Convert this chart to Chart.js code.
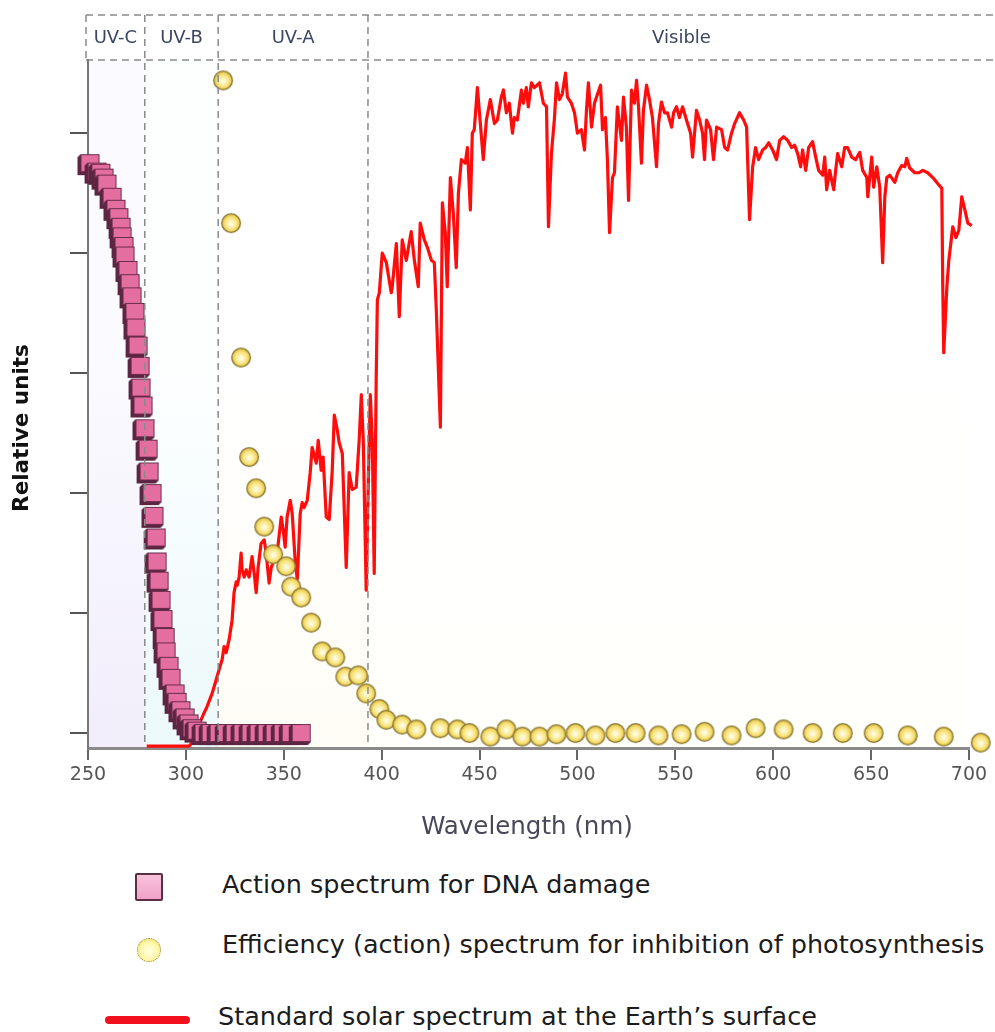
<!DOCTYPE html>
<html>
<head>
<meta charset="utf-8">
<title>UV action spectra and solar spectrum</title>
<script src="https://cdn.jsdelivr.net/npm/chart.js@4.4.1/dist/chart.umd.min.js"></script>
<style>
  html, body { margin: 0; padding: 0; background: #fff; }
  body { width: 995px; height: 1032px; position: relative; overflow: hidden; font-family: "DejaVu Sans", sans-serif; }
  #chart { position: absolute; left: 0; top: 0; }
  .lg-text { position: absolute; left: 222px; font-size: 25.5px; line-height: 30px; color: #1c1c1c; white-space: nowrap; }
  .lg-square { position: absolute; left: 135px; top: 873px; width: 24px; height: 24px;
    background: linear-gradient(#f9c3dc, #f1a2c8); border: 2px solid #5a2e45; border-radius: 2px; }
  .lg-dot { position: absolute; left: 137px; top: 938px; width: 22px; height: 22px; border-radius: 50%;
    background: radial-gradient(circle at 50% 55%, #ffffe6 0%, #fff7a8 55%, #e9cf55 100%); border: 1.5px dotted #9c8c4c; }
  .lg-line { position: absolute; left: 105px; top: 1016px; width: 85px; height: 8px; border-radius: 4px; background: #f2101c; }
</style>
</head>
<body>
<canvas id="chart" width="995" height="860"></canvas>

<div class="lg-square"></div>
<div class="lg-text" id="lg-dna" style="top: 869px;"></div>
<div class="lg-dot"></div>
<div class="lg-text" id="lg-photo" style="top: 929px;"></div>
<div class="lg-line"></div>
<div class="lg-text" id="lg-solar" style="top: 1001px; left: 218px;"></div>

<script>
// spectral bands across the top
const bandNames = ["UV-C", "UV-B", "UV-A", "Visible"];
const bandEdges = [250, 279, 316.5, 393];

const xTicks = [250, 300, 350, 400, 450, 500, 550, 600, 650, 700];

// action spectrum for DNA damage
const dnaWl = [251, 254.6, 256.6, 258.2, 259.7, 262.3, 264.3, 265.8, 266.9, 267.4,
  268.4, 268.9, 270.4, 271.5, 272.5, 274.0, 274.5, 275.6, 276.6, 277.1,
  278.1, 279.1, 280.7, 281.2, 282.7, 283.7, 284.8, 285.3, 286.3, 287.3,
  288.3, 289.4, 289.9, 291.4, 292.4, 294.5, 295.5, 297.5, 299.6, 301.6,
  303.2, 305.7, 309.3, 312.9, 317.0, 321.1, 325.2, 329.2, 333.3, 337.4,
  341.5, 345.6, 349.7, 353.8, 358.9];
const dnaVal = [4.75, 4.68, 4.67, 4.63, 4.58, 4.47, 4.37, 4.30, 4.22, 4.14,
  4.06, 3.98, 3.86, 3.75, 3.64, 3.51, 3.38, 3.23, 3.06, 2.88,
  2.73, 2.54, 2.37, 2.18, 2.00, 1.81, 1.63, 1.43, 1.27, 1.11,
  0.95, 0.80, 0.68, 0.56, 0.46, 0.33, 0.26, 0.19, 0.13, 0.08,
  0.04, 0.02, 0, 0, 0, 0, 0, 0, 0, 0,
  0, 0, 0, 0, 0];

// efficiency spectrum for inhibition of photosynthesis
const photoWl = [319.0, 323.1, 328.2, 332.3, 335.9, 340.0, 344.6, 351.2, 353.8, 358.9,
  364.0, 369.6, 376.3, 381.4, 388.0, 392.1, 398.8, 402.4, 410.5, 417.7,
  430.0, 438.7, 444.8, 455.5, 463.7, 471.9, 480.6, 489.3, 499.0, 509.2,
  519.4, 529.7, 541.4, 553.2, 564.9, 578.7, 591.0, 605.3, 620.1, 635.5,
  651.3, 668.7, 687.1, 706.0];
const photoVal = [5.44, 4.25, 3.13, 2.30, 2.04, 1.72, 1.49, 1.39, 1.22, 1.13,
  0.92, 0.68, 0.63, 0.47, 0.48, 0.33, 0.20, 0.11, 0.07, 0.03,
  0.04, 0.03, 0.00, -0.03, 0.03, -0.03, -0.03, -0.01, 0.00, -0.02,
  0.00, 0.00, -0.02, -0.01, 0.01, -0.02, 0.04, 0.03, 0.00, 0.00,
  0.00, -0.02, -0.03, -0.08];

// standard solar spectrum at the surface
const solarWl = [280.0, 291.4, 301.6, 304.2, 306.7, 308.8, 310.8, 313.4, 315.4, 317.0,
  318.5, 319.5, 320.6, 322.1, 323.6, 324.6, 325.7, 326.2, 327.2, 328.2,
  328.7, 329.8, 330.8, 332.3, 333.8, 334.9, 335.9, 336.9, 338.4, 340.0,
  341.0, 342.5, 343.6, 345.1, 346.6, 348.7, 349.7, 350.7, 351.7, 353.3,
  354.3, 355.8, 356.9, 358.4, 359.4, 360.4, 362.0, 363.5, 364.5, 366.6,
  367.6, 369.1, 370.1, 371.7, 373.2, 374.7, 375.8, 377.3, 378.3, 379.9,
  381.9, 383.4, 385.0, 387.0, 388.5, 389.6, 390.6, 391.6, 392.1, 393.2,
  394.2, 395.2, 396.2, 397.2, 397.8, 398.8, 400.3, 402.4, 404.9, 405.4,
  407.5, 409.0, 410.5, 412.6, 415.1, 416.7, 418.7, 419.7, 421.8, 423.3,
  425.4, 426.9, 427.9, 430.0, 431.0, 432.5, 433.5, 435.1, 436.6, 438.1,
  439.2, 440.7, 442.7, 443.8, 445.3, 446.3, 447.3, 448.9, 450.4, 451.9,
  453.5, 455.5, 457.6, 459.1, 461.1, 462.2, 463.7, 465.2, 466.8, 467.8,
  469.3, 471.4, 472.4, 473.9, 474.9, 476.5, 478.0, 480.6, 482.6, 484.2,
  485.2, 486.7, 488.2, 489.3, 490.8, 492.3, 493.9, 494.9, 496.9, 498.5,
  500.0, 502.0, 503.6, 504.6, 505.6, 507.2, 508.7, 509.7, 511.8, 512.8,
  514.3, 515.3, 516.4, 517.9, 518.9, 520.4, 522.5, 523.5, 525.0, 526.1,
  527.6, 529.1, 530.2, 531.2, 532.7, 533.7, 535.3, 536.8, 538.3, 540.4,
  541.4, 542.9, 544.5, 546.0, 548.1, 549.1, 550.6, 552.1, 553.7, 555.7,
  557.8, 558.8, 560.8, 562.4, 563.9, 564.9, 565.9, 568.0, 569.5, 571.1,
  573.6, 575.2, 576.7, 578.7, 580.3, 582.8, 584.9, 586.4, 587.9, 589.5,
  591.0, 592.5, 594.6, 596.1, 597.7, 599.7, 601.7, 603.3, 605.3, 607.4,
  609.4, 610.9, 612.5, 614.0, 615.0, 616.6, 618.1, 620.1, 621.7, 623.2,
  625.3, 626.3, 627.3, 628.8, 630.9, 631.9, 632.9, 635.0, 636.5, 638.0,
  640.1, 642.1, 644.2, 645.7, 647.8, 648.3, 650.3, 651.3, 652.9, 654.4,
  655.9, 657.0, 658.0, 659.5, 662.1, 663.6, 665.6, 667.2, 668.2, 669.7,
  672.3, 674.3, 676.4, 678.9, 681.5, 684.0, 686.1, 686.6, 687.1, 688.7,
  689.7, 691.7, 693.3, 694.8, 696.3, 697.9, 699.4, 701.4];
const solarVal = [-0.11, -0.11, -0.11, -0.06, 0.07, 0.15, 0.22, 0.33, 0.44, 0.53,
  0.61, 0.72, 0.67, 0.78, 0.94, 1.17, 1.26, 1.23, 1.30, 1.50,
  1.36, 1.30, 1.36, 1.30, 1.47, 1.33, 1.17, 1.38, 1.58, 1.61,
  1.50, 1.25, 1.38, 1.44, 1.50, 1.80, 1.69, 1.55, 1.80, 1.94,
  1.83, 1.44, 1.28, 1.83, 1.92, 1.88, 1.94, 2.17, 2.38, 2.25,
  2.44, 2.19, 2.30, 1.80, 1.78, 2.17, 2.65, 2.53, 2.42, 2.33,
  1.38, 2.17, 2.03, 2.05, 2.44, 2.82, 2.44, 1.61, 1.19, 2.11,
  2.82, 2.44, 1.33, 2.94, 3.61, 3.67, 4.00, 3.92, 3.67, 3.72,
  4.08, 3.47, 4.11, 3.94, 4.18, 3.94, 3.72, 4.25, 4.11, 4.05,
  3.94, 3.92, 3.53, 2.55, 4.42, 4.17, 3.72, 4.63, 4.33, 3.88,
  4.50, 4.78, 4.75, 4.88, 4.36, 5.00, 5.03, 5.38, 5.08, 4.78,
  5.11, 5.28, 5.08, 5.11, 5.30, 5.36, 5.17, 5.25, 5.00, 5.13,
  5.11, 5.36, 5.25, 5.38, 5.22, 5.42, 5.38, 5.42, 5.25, 5.22,
  4.22, 4.83, 5.11, 5.42, 5.28, 5.33, 5.50, 5.30, 5.25, 5.17,
  5.00, 5.03, 4.86, 5.19, 5.42, 5.05, 5.25, 5.30, 5.40, 5.03,
  5.13, 4.78, 4.17, 4.63, 4.67, 5.22, 4.94, 5.30, 5.05, 4.44,
  5.36, 5.25, 5.44, 5.22, 4.75, 5.19, 5.40, 5.28, 5.13, 4.72,
  5.08, 5.26, 5.17, 5.17, 5.05, 5.17, 5.22, 5.13, 5.22, 5.11,
  5.00, 4.80, 5.19, 5.11, 5.00, 4.78, 5.11, 5.03, 4.78, 5.05,
  5.03, 4.88, 4.86, 5.00, 5.08, 5.17, 5.11, 5.05, 4.28, 4.72,
  4.88, 4.78, 4.86, 4.88, 4.92, 4.86, 4.78, 4.94, 4.97, 4.94,
  4.88, 4.90, 4.83, 4.72, 4.86, 4.69, 4.88, 4.93, 4.80, 4.69,
  4.65, 4.80, 4.53, 4.69, 4.53, 4.69, 4.83, 4.72, 4.88, 4.88,
  4.80, 4.78, 4.84, 4.69, 4.63, 4.47, 4.80, 4.55, 4.72, 4.55,
  3.92, 4.47, 4.63, 4.65, 4.59, 4.67, 4.73, 4.72, 4.79, 4.71,
  4.67, 4.67, 4.69, 4.67, 4.63, 4.58, 4.54, 3.72, 3.17, 3.72,
  3.94, 4.22, 4.13, 4.19, 4.47, 4.36, 4.25, 4.23];

const seriesLabels = [
  "Action spectrum for DNA damage",
  "Efficiency (action) spectrum for inhibition of photosynthesis",
  "Standard solar spectrum at the Earth\u2019s surface"
];

function toPoints(xs, ys) {
  return xs.map((x, i) => ({ x: x, y: ys[i] }));
}

// pink square with a dark edge on the lower left, used as the point marker
function makeSquare() {
  const c = document.createElement("canvas");
  c.width = 27;
  c.height = 26;
  const g = c.getContext("2d");
  g.fillStyle = "#5c2541";
  g.beginPath();
  g.moveTo(4, 4);
  g.lineTo(1, 7);
  g.lineTo(1, 25);
  g.lineTo(20, 25);
  g.lineTo(23, 22);
  g.lineTo(4, 22);
  g.closePath();
  g.fill();
  g.fillStyle = "#e56ea1";
  g.fillRect(4, 4, 19, 18);
  g.strokeStyle = "#6b2c4b";
  g.lineWidth = 1;
  g.strokeRect(4.5, 4.5, 18, 17);
  return c;
}

// shaded yellow ball
function makeDot() {
  const c = document.createElement("canvas");
  c.width = 22;
  c.height = 22;
  const g = c.getContext("2d");
  const grad = g.createRadialGradient(11, 12, 1, 11, 11, 10);
  grad.addColorStop(0, "#fffce2");
  grad.addColorStop(0.55, "#f9e47c");
  grad.addColorStop(1, "#dcb536");
  g.fillStyle = grad;
  g.beginPath();
  g.arc(11, 11, 9.3, 0, Math.PI * 2);
  g.fill();
  g.strokeStyle = "#857533";
  g.lineWidth = 1.3;
  g.stroke();
  return c;
}

function dashedLine(ctx, x0, y0, x1, y1) {
  ctx.beginPath();
  ctx.moveTo(x0, y0);
  ctx.lineTo(x1, y1);
  ctx.stroke();
}

// faint tint behind each spectral band
const bandShading = {
  id: "bandShading",
  beforeDraw(chart) {
    const { ctx, chartArea } = chart;
    const x = chart.scales.x;
    const tints = [["#fbfaff", "#f1eefa"], ["#fdffff", "#ecf9fb"], ["#ffffff", "#fffdf6"], ["#ffffff", "#fffffb"]];
    ctx.save();
    bandEdges.forEach((edge, i) => {
      const x0 = x.getPixelForValue(edge);
      const x1 = i < bandEdges.length - 1 ? x.getPixelForValue(bandEdges[i + 1]) : chartArea.right;
      const grad = ctx.createLinearGradient(0, chartArea.top, 0, chartArea.bottom);
      grad.addColorStop(0, tints[i][0]);
      grad.addColorStop(0.45, tints[i][0]);
      grad.addColorStop(1, tints[i][1]);
      ctx.fillStyle = grad;
      ctx.fillRect(x0, chartArea.top, x1 - x0, chartArea.bottom - chartArea.top);
    });
    ctx.restore();
  }
};

// dashed header box with band names, dashed band boundaries and axis titles
const bandHeader = {
  id: "bandHeader",
  afterDatasetsDraw(chart) {
    const { ctx, chartArea, width } = chart;
    const x = chart.scales.x;
    const top = 15;
    const bottom = chartArea.top;
    const left = x.getPixelForValue(bandEdges[0]) - 2;

    ctx.save();
    ctx.strokeStyle = "#8a8a8a";
    ctx.lineWidth = 1.5;
    ctx.setLineDash([7, 5]);
    dashedLine(ctx, left, top, width, top);
    dashedLine(ctx, left, bottom, width, bottom);
    dashedLine(ctx, left, top, left, bottom);
    bandEdges.slice(1).forEach((edge) => {
      const px = x.getPixelForValue(edge);
      dashedLine(ctx, px, top, px, chartArea.bottom);
    });
    ctx.setLineDash([]);

    ctx.fillStyle = "#3b4563";
    ctx.font = "18px 'DejaVu Sans'";
    ctx.textAlign = "center";
    ctx.textBaseline = "middle";
    bandNames.forEach((name, i) => {
      const x0 = i === 0 ? left : x.getPixelForValue(bandEdges[i]);
      const x1 = i < bandNames.length - 1 ? x.getPixelForValue(bandEdges[i + 1]) : width;
      ctx.fillText(name, (x0 + x1) / 2, (top + bottom) / 2 + 1);
    });

    ctx.fillStyle = "#48485a";
    ctx.font = "24.5px 'DejaVu Sans'";
    ctx.fillText("Wavelength (nm)", 527, 828);

    ctx.save();
    ctx.translate(22, 428);
    ctx.rotate(-Math.PI / 2);
    ctx.fillStyle = "#111";
    ctx.font = "bold 21.5px 'DejaVu Sans'";
    ctx.fillText("Relative units", 0, 0);
    ctx.restore();
    ctx.restore();
  }
};

Chart.defaults.font.family = "'DejaVu Sans', sans-serif";

const chart = new Chart(document.getElementById("chart"), {
  type: "scatter",
  data: {
    datasets: [
      {
        label: seriesLabels[0],
        data: toPoints(dnaWl, dnaVal),
        pointStyle: makeSquare(),
        pointRadius: 14,
        clip: false,
        order: 2
      },
      {
        label: seriesLabels[1],
        data: toPoints(photoWl, photoVal),
        pointStyle: makeDot(),
        pointRadius: 14,
        clip: false,
        order: 1
      },
      {
        label: seriesLabels[2],
        data: toPoints(solarWl, solarVal),
        showLine: true,
        borderColor: "#ff0d0d",
        borderWidth: 3.2,
        borderJoinStyle: "round",
        pointRadius: 0,
        tension: 0,
        clip: false,
        order: 3
      }
    ]
  },
  options: {
    responsive: false,
    animation: false,
    layout: { padding: { top: 60, right: 26, left: 0, bottom: 0 } },
    plugins: {
      legend: { display: false },
      tooltip: { enabled: false }
    },
    scales: {
      x: {
        type: "linear",
        min: xTicks[0],
        max: xTicks[xTicks.length - 1],
        afterFit: (scale) => {
          scale.height = 112;
          scale.paddingLeft = 0;
          scale.paddingRight = 0;
        },
        afterBuildTicks: (scale) => {
          scale.ticks = xTicks.map((v) => ({ value: v }));
        },
        ticks: { color: "#555", font: { size: 19 }, padding: 4, maxRotation: 0 },
        grid: { drawOnChartArea: false, drawTicks: true, tickLength: 12, color: "#666", lineWidth: 2 },
        border: { color: "#8a8a8a", width: 3 }
      },
      y: {
        min: -0.125,
        max: 5.61,
        afterFit: (scale) => {
          scale.width = 88;
        },
        ticks: { display: false, stepSize: 1, includeBounds: false },
        grid: { drawOnChartArea: false, drawTicks: true, tickLength: 18, color: "#555", lineWidth: 2 },
        border: { color: "#777", width: 2 }
      }
    }
  },
  plugins: [bandShading, bandHeader]
});

// legend texts come from the dataset labels
document.getElementById("lg-dna").textContent = chart.data.datasets[0].label;
document.getElementById("lg-photo").textContent = chart.data.datasets[1].label;
document.getElementById("lg-solar").textContent = chart.data.datasets[2].label;
</script>
</body>
</html>
